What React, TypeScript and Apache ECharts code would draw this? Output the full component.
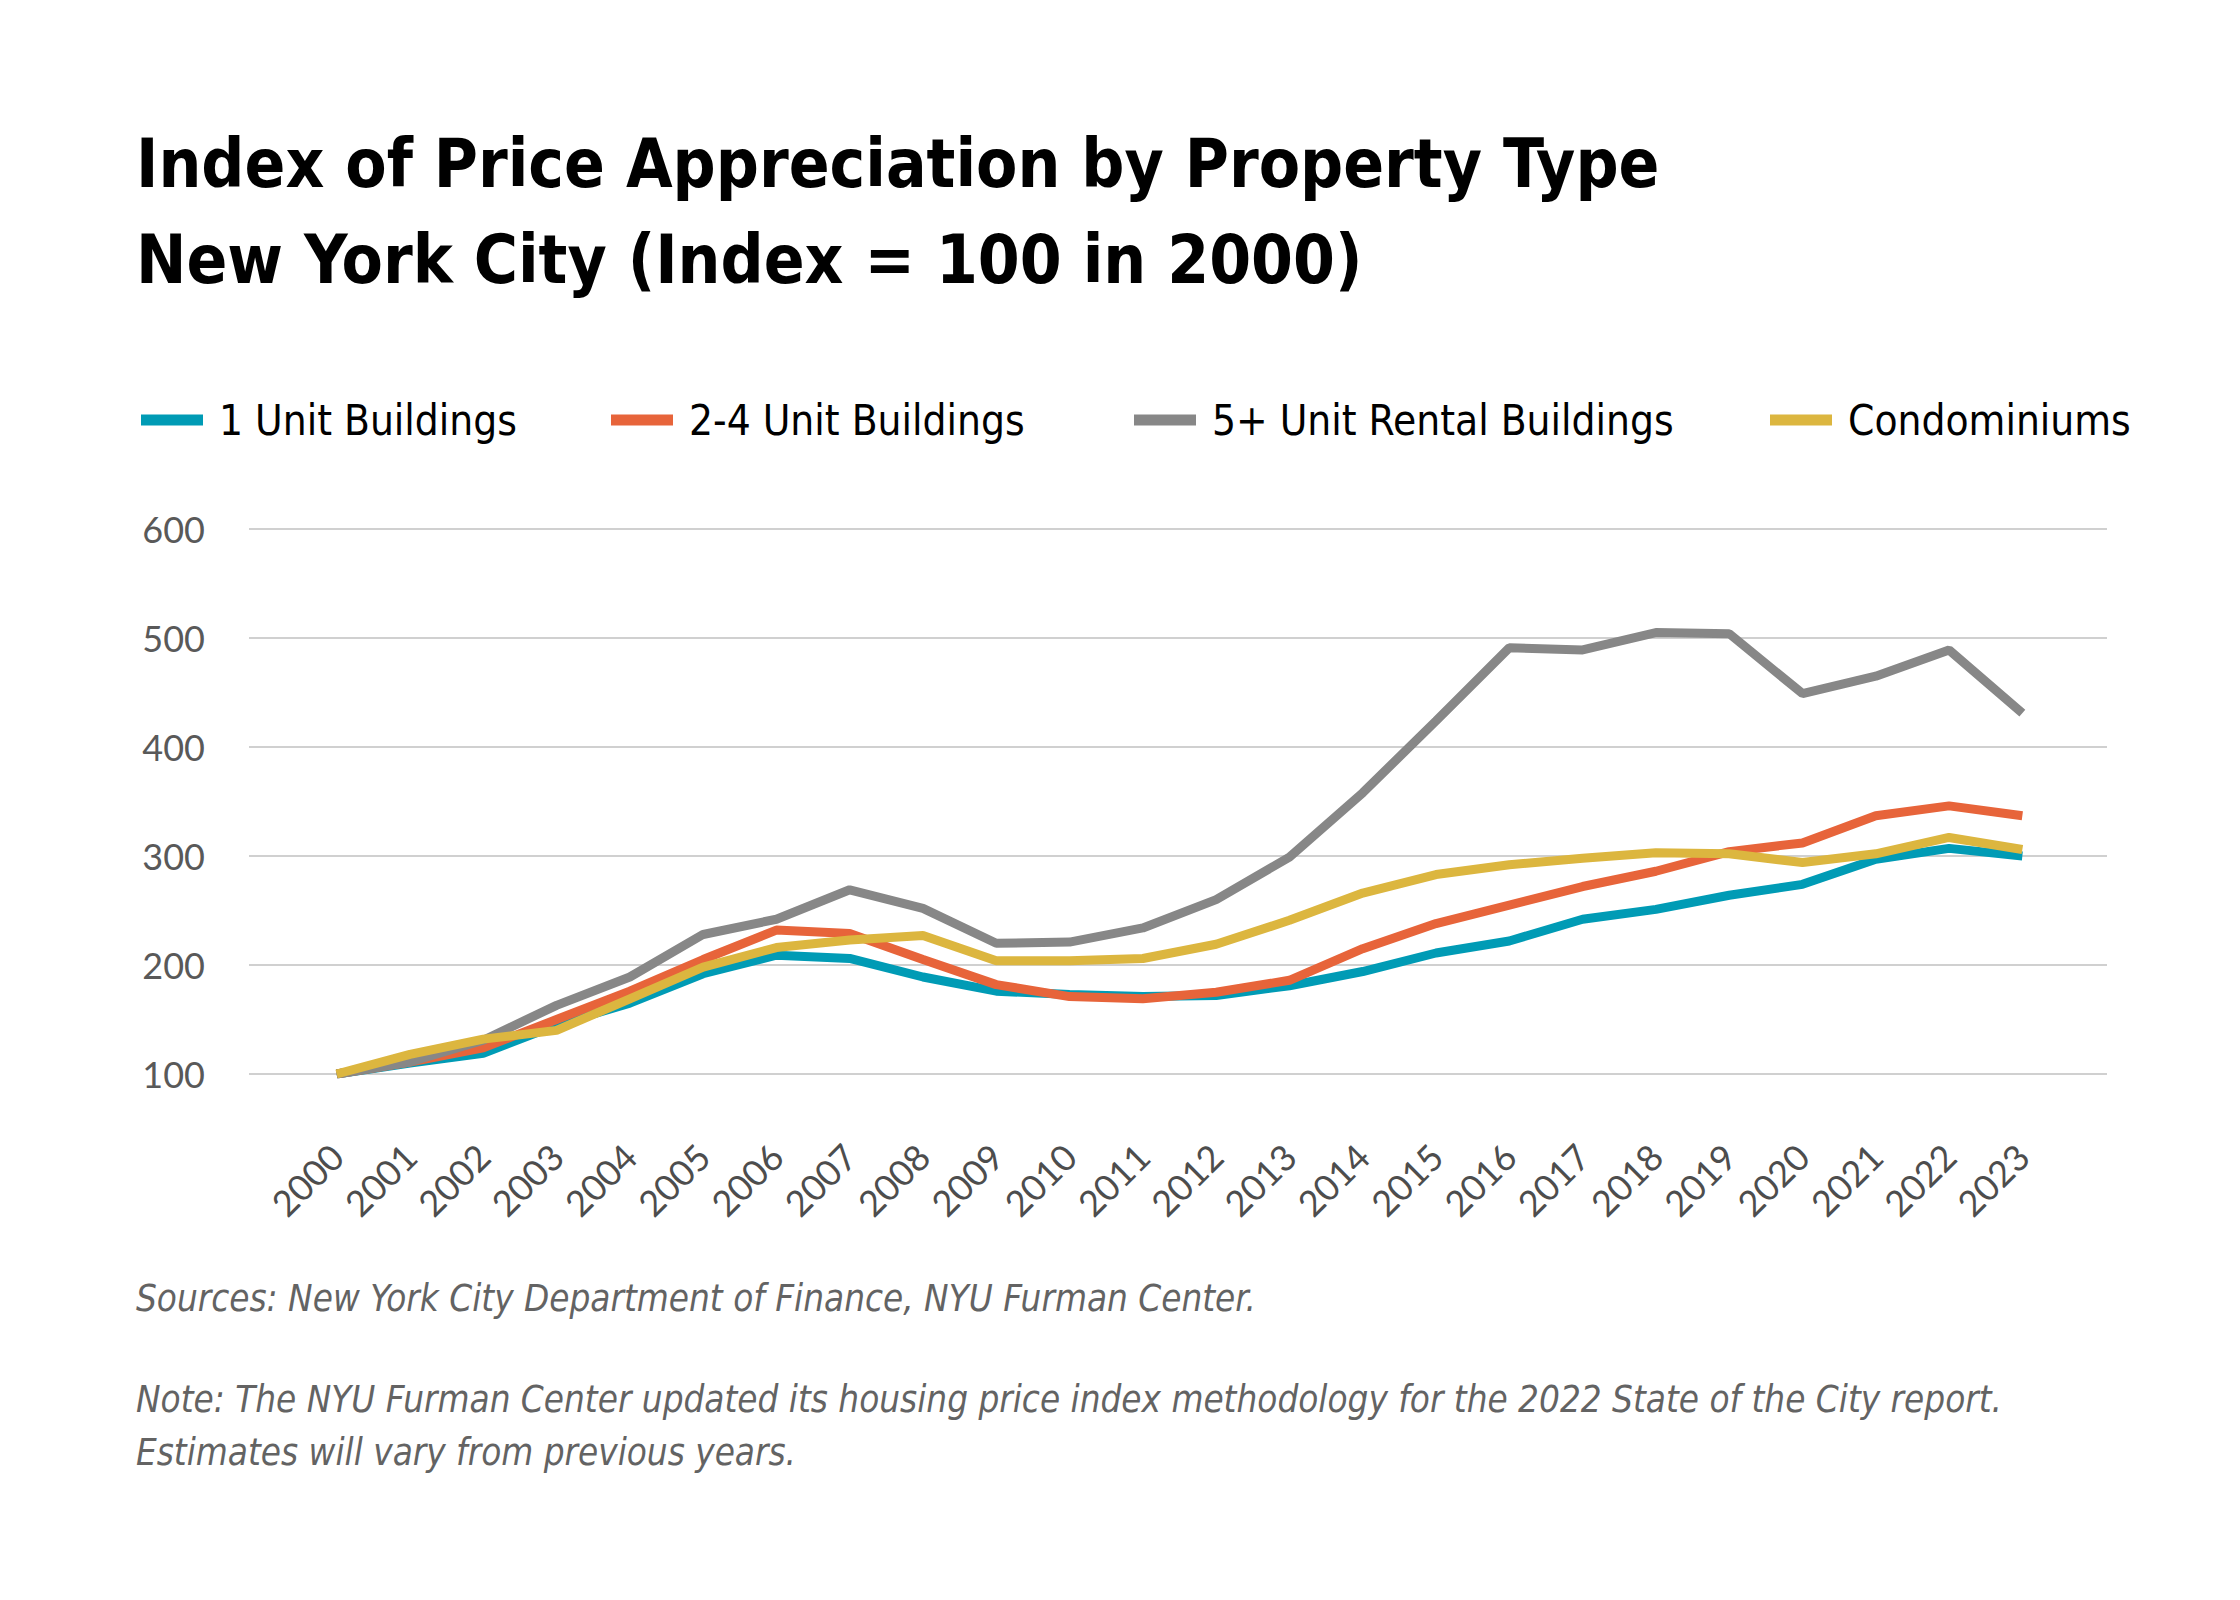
import React, { useEffect, useRef } from 'react';
import * as echarts from 'echarts';

const years = [
  '2000', '2001', '2002', '2003', '2004', '2005', '2006', '2007', '2008', '2009', '2010', '2011',
  '2012', '2013', '2014', '2015', '2016', '2017', '2018', '2019', '2020', '2021', '2022', '2023',
];

const oneUnit = [100, 110, 119, 145, 165, 192, 209, 206, 189, 176, 173, 171, 172, 181, 194, 211, 222, 242, 251, 264, 274, 297, 307, 300];
const twoFourUnit = [100, 111, 124, 150, 176, 205, 232, 229, 205, 182, 171, 169, 175, 186, 215, 238, 255, 272, 286, 304, 312, 337, 346, 337];
const fivePlusRental = [100, 111, 131, 163, 189, 228, 242, 269, 252, 220, 221, 234, 260, 299, 358, 424, 491, 489, 505, 504, 449, 465, 489, 431];
const condos = [100, 118, 132, 140, 169, 198, 216, 223, 227, 204, 204, 206, 219, 241, 266, 283, 292, 298, 303, 302, 294, 302, 317, 306];

const seriesNames = ['1 Unit Buildings', '2-4 Unit Buildings', '5+ Unit Rental Buildings', 'Condominiums'];
const seriesColors = ['#009bb5', '#e7643a', '#878787', '#dcb63f'];
const yTicks = [100, 200, 300, 400, 500, 600];

const titleLines = ['Index of Price Appreciation by Property Type', 'New York City (Index = 100 in 2000)'];
const sourceLine = 'Sources: New York City Department of Finance, NYU Furman Center.';
const noteLines = [
  'Note: The NYU Furman Center updated its housing price index methodology for the 2022 State of the City report.',
  'Estimates will vary from previous years.',
];

const narrow = "'Liberation Sans Narrow', 'DejaVu Sans Condensed', 'Noto Sans', sans-serif";
const axisFont = "Lato, 'Open Sans', sans-serif";

// legend item left edges (icon start)
const legendLefts = [141, 611, 1134, 1770];

export default function App() {
  const chartRef = useRef<HTMLDivElement>(null);

  useEffect(() => {
    document.body.style.margin = '0';
    if (!chartRef.current) return;
    const chart = echarts.init(chartRef.current, null, { renderer: 'svg' });

    const allData = [oneUnit, twoFourUnit, fivePlusRental, condos];

    const option: echarts.EChartsOption = {
      animation: false,
      backgroundColor: '#ffffff',
      title: [
        {
          text: titleLines.join('\n'),
          left: 136,
          top: 116,
          padding: 0,
          textStyle: {
            fontFamily: narrow,
            fontWeight: 'bold',
            fontSize: 67,
            lineHeight: 96,
            color: '#000000',
          },
        },
        {
          text: sourceLine,
          left: 136,
          top: 1273,
          padding: 0,
          textStyle: {
            fontFamily: narrow,
            fontStyle: 'italic',
            fontWeight: 'normal',
            fontSize: 36.5,
            lineHeight: 50,
            color: '#636363',
          },
        },
        {
          text: noteLines.join('\n'),
          left: 136,
          top: 1373,
          padding: 0,
          textStyle: {
            fontFamily: narrow,
            fontStyle: 'italic',
            fontWeight: 'normal',
            fontSize: 36.5,
            lineHeight: 53,
            color: '#636363',
          },
        },
      ],
      legend: seriesNames.map((name, i) => ({
        data: [name],
        left: legendLefts[i],
        top: 399,
        padding: 0,
        icon: 'rect',
        itemWidth: 62,
        itemHeight: 11,
        selectedMode: false,
        textStyle: {
          fontFamily: narrow,
          fontSize: 42,
          color: '#000000',
          padding: [0, 0, 0, 11],
        },
      })),
      grid: [
        { left: 249, right: 133, top: 529, bottom: 526 },
        { left: 300, right: 181, top: 529, bottom: 526 },
      ],
      xAxis: [
        {
          gridIndex: 0,
          type: 'category',
          data: years,
          show: false,
        },
        {
          gridIndex: 1,
          type: 'category',
          data: years,
          boundaryGap: true,
          axisLine: { show: false },
          axisTick: { show: false },
          axisLabel: {
            rotate: 45,
            margin: 76,
            fontFamily: axisFont,
            fontSize: 36,
            color: '#4d4d4d',
          },
        },
      ],
      yAxis: [
        {
          gridIndex: 0,
          type: 'value',
          min: yTicks[0],
          max: yTicks[yTicks.length - 1],
          interval: 100,
          axisLine: { show: false },
          axisTick: { show: false },
          axisLabel: {
            margin: 44,
            fontFamily: axisFont,
            fontSize: 36,
            color: '#595959',
          },
          splitLine: { lineStyle: { color: '#d0d0d0', width: 2 } },
        },
        {
          gridIndex: 1,
          type: 'value',
          min: yTicks[0],
          max: yTicks[yTicks.length - 1],
          interval: 100,
          show: false,
          splitLine: { show: false },
        },
      ],
      series: seriesNames.map((name, i) => ({
        name,
        type: 'line',
        xAxisIndex: 1,
        yAxisIndex: 1,
        data: allData[i],
        symbol: 'none',
        lineStyle: { color: seriesColors[i], width: 9 },
        itemStyle: { color: seriesColors[i] },
      })),
    };

    chart.setOption(option);
    return () => {
      chart.dispose();
    };
  }, []);

  return <div ref={chartRef} style={{ width: 2240, height: 1600 }} />;
}
